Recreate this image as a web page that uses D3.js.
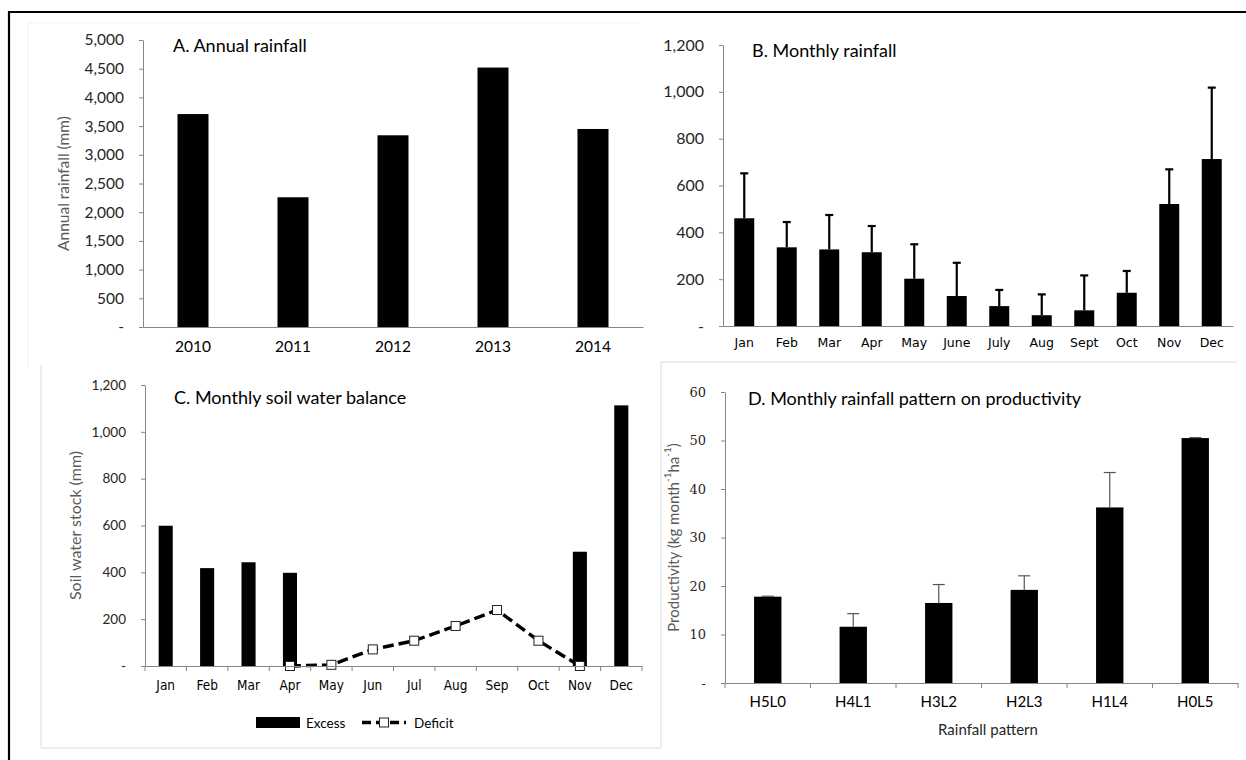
<!DOCTYPE html>
<html>
<head>
<meta charset="utf-8">
<script src="https://cdn.jsdelivr.net/npm/d3@7"></script>
<style>
  body { margin: 0; background: #fff; }
  svg { display: block; }
  text { font-family: Lato, "Open Sans", sans-serif; }
</style>
</head>
<body>
<script>
// ---- Panel A: annual rainfall ----
const years = ["2010", "2011", "2012", "2013", "2014"];
const annualRainfall = [3710, 2260, 3340, 4520, 3450];
const annualTicks = [0, 500, 1000, 1500, 2000, 2500, 3000, 3500, 4000, 4500, 5000];

// ---- Panel B: monthly rainfall (mean + SD) ----
const months = ["Jan", "Feb", "Mar", "Apr", "May", "June", "July", "Aug", "Sept", "Oct", "Nov", "Dec"];
const monthlyRainfall = [460, 336, 327, 315, 202, 128, 85, 46, 67, 142, 521, 713];
const monthlyRainfallSD = [192, 108, 147, 112, 147, 142, 69, 89, 149, 93, 148, 305];
const monthlyTicks = [0, 200, 400, 600, 800, 1000, 1200];

// ---- Panel C: monthly soil water balance ----
const soilMonths = ["Jan", "Feb", "Mar", "Apr", "May", "Jun", "Jul", "Aug", "Sep", "Oct", "Nov", "Dec"];
const soilExcess = [599, 418, 443, 398, null, null, null, null, null, null, 488, 1113];
const soilDeficit = [null, null, null, 0, 5, 71, 108, 171, 239, 108, 0, null];
const soilTicks = [0, 200, 400, 600, 800, 1000, 1200];

// ---- Panel D: rainfall pattern vs productivity ----
const patterns = ["H5L0", "H4L1", "H3L2", "H2L3", "H1L4", "H0L5"];
const productivity = [17.8, 11.6, 16.5, 19.2, 36.2, 50.5];
const productivitySD = [0.1, 2.7, 3.8, 2.9, 7.2, 0.1];
const productivityTicks = [0, 10, 20, 30, 40, 50, 60];

const W = 1246, H = 760;
const AXIS = "#868686";
const LABEL = "#262626";

const svg = d3.select("body").append("svg")
  .attr("width", W).attr("height", H)
  .attr("viewBox", `0 0 ${W} ${H}`);

svg.append("rect").attr("width", W).attr("height", H).attr("fill", "#fff");

// faint chart-area borders
const faint = svg.append("g").attr("fill", "none");
faint.append("path").attr("d", "M28,368V23H640").attr("stroke", "#f2f2f2");
faint.append("path").attr("d", "M41,365V748H661").attr("stroke", "#dcdcdc");
faint.append("path").attr("d", "M661,748V362H1237").attr("stroke", "#dcdcdc");

// outer frame
svg.append("path").attr("d", "M9,760V12H1246")
  .attr("fill", "none").attr("stroke", "#000").attr("stroke-width", 2.2);

const fmtZero = f => d => d === 0 ? "-" : f(d);

function yAxis(y, x0, ticks, fmt, font, size) {
  const g = svg.append("g").attr("transform", `translate(${x0},0)`)
    .call(d3.axisLeft(y).tickValues(ticks).tickFormat(fmt)
      .tickSize(4).tickSizeOuter(0).tickPadding(15));
  g.select(".domain").attr("stroke", AXIS);
  g.selectAll(".tick line").attr("stroke", AXIS);
  g.selectAll(".tick text").attr("fill", LABEL)
    .style("font-family", font).style("font-size", size + "px");
  return g;
}

function xAxis(x, y0, pad, font, size, withTicks) {
  const g = svg.append("g").attr("transform", `translate(0,${y0})`)
    .call(d3.axisBottom(x).tickSize(0).tickSizeOuter(0).tickPadding(pad));
  g.select(".domain").attr("stroke", AXIS);
  g.selectAll(".tick text").attr("fill", "#000")
    .style("font-family", font).style("font-size", size + "px");
  if (withTicks) {
    const r0 = x.range()[0];
    g.selectAll(".sep").data(d3.range(x.domain().length + 1)).join("line")
      .attr("x1", k => r0 + k * x.step()).attr("x2", k => r0 + k * x.step())
      .attr("y1", 0).attr("y2", 5).attr("stroke", AXIS);
  }
  return g;
}

function panelTitle(txt, x, y) {
  svg.append("text").attr("x", x).attr("y", y).attr("fill", "#000")
    .style("font-size", "18px").text(txt);
}

function yTitle(x, y) {
  return svg.append("text").attr("transform", `translate(${x},${y}) rotate(-90)`)
    .attr("text-anchor", "middle").attr("dominant-baseline", "central")
    .attr("fill", "#595959");
}

const CAT_FONT = "'DejaVu Sans', sans-serif";
const NARROW_FONT = "'DejaVu Sans Condensed', 'DejaVu Sans', sans-serif";

// ===== Panel A =====
{
  const x = d3.scaleBand().domain(years).range([143, 643]).paddingInner(0.69).paddingOuter(0.345);
  const y = d3.scaleLinear().domain([0, 5000]).range([327, 40]);
  svg.append("g").selectAll("rect").data(years).join("rect")
    .attr("x", d => x(d)).attr("width", x.bandwidth())
    .attr("y", (d, i) => y(annualRainfall[i]))
    .attr("height", (d, i) => y(0) - y(annualRainfall[i]))
    .attr("fill", "#000");
  yAxis(y, 143, annualTicks, fmtZero(d3.format(",")), "Lato, sans-serif", 15.5);
  xAxis(x, 327, 14, "Lato, sans-serif", 15.5, false);
  yTitle(63, 183.5).style("font-size", "15.5px").text("Annual rainfall (mm)");
  panelTitle("A. Annual rainfall", 173, 52);
}

// ===== Panel B =====
{
  const x = d3.scaleBand().domain(months).range([723, 1233]).paddingInner(0.53).paddingOuter(0.265);
  const y = d3.scaleLinear().domain([0, 1200]).range([326, 45]);
  const g = svg.append("g");
  g.selectAll("rect").data(months).join("rect")
    .attr("x", d => x(d)).attr("width", x.bandwidth())
    .attr("y", (d, i) => y(monthlyRainfall[i]))
    .attr("height", (d, i) => y(0) - y(monthlyRainfall[i]))
    .attr("fill", "#000");
  const eb = g.selectAll(".err").data(months).join("g")
    .attr("transform", d => `translate(${x(d) + x.bandwidth() / 2},0)`)
    .attr("stroke", "#000").attr("stroke-width", 2.2);
  eb.append("line")
    .attr("y1", (d, i) => y(monthlyRainfall[i]))
    .attr("y2", (d, i) => y(monthlyRainfall[i] + monthlyRainfallSD[i]));
  eb.append("line").attr("x1", -4).attr("x2", 4)
    .attr("y1", (d, i) => y(monthlyRainfall[i] + monthlyRainfallSD[i]))
    .attr("y2", (d, i) => y(monthlyRainfall[i] + monthlyRainfallSD[i]));
  yAxis(y, 723, monthlyTicks, fmtZero(d3.format(",")), "Lato, sans-serif", 16);
  xAxis(x, 326, 12, CAT_FONT, 12.5, false);
  panelTitle("B. Monthly rainfall", 752, 57);
}

// ===== Panel C =====
{
  const x = d3.scaleBand().domain(soilMonths).range([145, 642]).paddingInner(0.66).paddingOuter(0.33);
  const y = d3.scaleLinear().domain([0, 1200]).range([666, 385]);
  const g = svg.append("g");
  const idx = soilMonths.map((m, i) => i).filter(i => soilExcess[i] != null);
  g.selectAll("rect").data(idx).join("rect")
    .attr("x", i => x(soilMonths[i])).attr("width", x.bandwidth())
    .attr("y", i => y(soilExcess[i]))
    .attr("height", i => y(0) - y(soilExcess[i]))
    .attr("fill", "#000");
  yAxis(y, 145, soilTicks, fmtZero(d3.format(",")), "Lato, sans-serif", 13.5);
  xAxis(x, 666, 14, NARROW_FONT, 13.5, true);

  const cx = i => x(soilMonths[i]) + x.bandwidth() / 2;
  const line = d3.line().defined(i => soilDeficit[i] != null)
    .x(i => cx(i)).y(i => y(soilDeficit[i]));
  g.append("path").attr("d", line(d3.range(soilMonths.length)))
    .attr("fill", "none").attr("stroke", "#000").attr("stroke-width", 3.4)
    .attr("stroke-dasharray", "11,5");
  const pts = d3.range(soilMonths.length).filter(i => soilDeficit[i] != null);
  g.selectAll(".mk").data(pts).join("rect")
    .attr("x", i => cx(i) - 4.5).attr("y", i => y(soilDeficit[i]) - 4.5)
    .attr("width", 9).attr("height", 9)
    .attr("fill", "#fff").attr("stroke", "#222").attr("stroke-width", 1);

  yTitle(74, 525.5).style("font-size", "16px").text("Soil water stock (mm)");
  panelTitle("C. Monthly soil water balance", 174, 404);

  // legend
  const lg = svg.append("g").style("font-family", NARROW_FONT).style("font-size", "13.5px");
  lg.append("rect").attr("x", 256).attr("y", 717).attr("width", 44).attr("height", 11).attr("fill", "#000");
  lg.append("text").attr("x", 306).attr("y", 722.5).attr("dominant-baseline", "central").text("Excess");
  lg.append("line").attr("x1", 362).attr("x2", 406).attr("y1", 722.5).attr("y2", 722.5)
    .attr("stroke", "#000").attr("stroke-width", 3.4).attr("stroke-dasharray", "9,5");
  lg.append("rect").attr("x", 379.5).attr("y", 718).attr("width", 9).attr("height", 9)
    .attr("fill", "#fff").attr("stroke", "#222");
  lg.append("text").attr("x", 414).attr("y", 722.5).attr("dominant-baseline", "central").text("Deficit");
}

// ===== Panel D =====
{
  const x = d3.scaleBand().domain(patterns).range([725, 1238]).paddingInner(0.68).paddingOuter(0.34);
  const y = d3.scaleLinear().domain([0, 60]).range([683, 392]);
  const g = svg.append("g");
  g.selectAll("rect").data(patterns).join("rect")
    .attr("x", d => x(d)).attr("width", x.bandwidth())
    .attr("y", (d, i) => y(productivity[i]))
    .attr("height", (d, i) => y(0) - y(productivity[i]))
    .attr("fill", "#000");
  const eb = g.selectAll(".err").data(patterns).join("g")
    .attr("transform", d => `translate(${x(d) + x.bandwidth() / 2},0)`)
    .attr("stroke", "#555").attr("stroke-width", 1.2);
  eb.append("line")
    .attr("y1", (d, i) => y(productivity[i]))
    .attr("y2", (d, i) => y(productivity[i] + productivitySD[i]));
  eb.append("line").attr("x1", -6).attr("x2", 6)
    .attr("y1", (d, i) => y(productivity[i] + productivitySD[i]))
    .attr("y2", (d, i) => y(productivity[i] + productivitySD[i]));
  yAxis(y, 725, productivityTicks, fmtZero(d3.format("d")), "'DejaVu Serif', serif", 13);
  xAxis(x, 683, 13, "Lato, sans-serif", 15, true);

  const t = yTitle(673, 537.5).style("font-size", "15px");
  t.append("tspan").text("Productivity (kg month");
  t.append("tspan").attr("baseline-shift", "super").style("font-size", "10px").text("-1");
  t.append("tspan").text("ha");
  t.append("tspan").attr("baseline-shift", "super").style("font-size", "10px").text("-1");
  t.append("tspan").text(")");

  svg.append("text").attr("x", 988).attr("y", 729).attr("text-anchor", "middle")
    .attr("dominant-baseline", "central").attr("fill", "#262626")
    .style("font-size", "15px").text("Rainfall pattern");
  panelTitle("D. Monthly rainfall pattern on productivity", 748, 405);
}
</script>
</body>
</html>
